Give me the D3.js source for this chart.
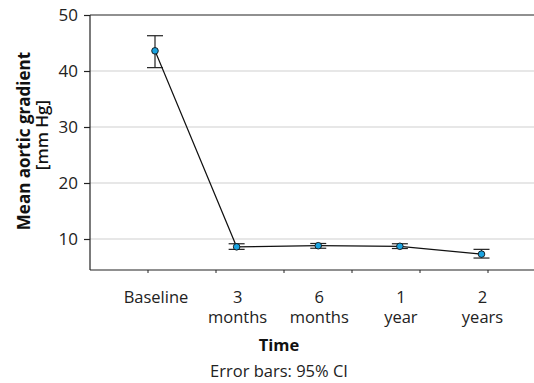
<!DOCTYPE html>
<html>
<head>
<meta charset="utf-8">
<script src="https://cdn.jsdelivr.net/npm/d3@7"></script>
<style>
  body { margin: 0; background: #fff; }
  svg { font-family: "Open Sans", "Noto Sans", sans-serif; }
</style>
</head>
<body>
<div id="chart"></div>
<script>
// chart values
var categories = ['Baseline', '3 months', '6 months', '1 year', '2 years'];
var category_lines = [['Baseline'], ['3', 'months'], ['6', 'months'], ['1', 'year'], ['2', 'years']];
var means = [43.6, 8.6, 8.8, 8.7, 7.3];
var ci_low = [40.6, 8.15, 8.35, 8.3, 6.6];
var ci_high = [46.3, 9.15, 9.2, 9.15, 8.15];
var y_ticks = [10, 20, 30, 40, 50];

var WIDTH = 534, HEIGHT = 383;
var PLOT_LEFT = 90, PLOT_RIGHT = 534, PLOT_TOP = 15, PLOT_BOTTOM = 270;
var FONT = '"Open Sans", "Noto Sans", sans-serif';
var FONT_SIZE = 16.5;

var svg = d3.select('#chart').append('svg')
    .attr('width', WIDTH)
    .attr('height', HEIGHT);

var y = d3.scaleLinear()
    .domain([50 - (PLOT_BOTTOM - PLOT_TOP) / 5.6, 50])
    .range([PLOT_BOTTOM, PLOT_TOP]);

var x = d3.scalePoint()
    .domain(categories)
    .range([155, 481.5]);

// the bottom axis ticks don't line up with the categories in the original
var tick_scale = d3.scaleLinear().domain([0, 5]).range([148, 488]);

// grid lines
svg.append('g').selectAll('line')
    .data(y_ticks.filter((d) => d < 50))
    .enter().append('line')
    .attr('x1', PLOT_LEFT).attr('x2', PLOT_RIGHT)
    .attr('y1', (d) => y(d)).attr('y2', (d) => y(d))
    .attr('stroke', '#cfcfcf')
    .attr('stroke-width', 1.2);

// top frame line
svg.append('line')
    .attr('x1', PLOT_LEFT).attr('x2', PLOT_RIGHT)
    .attr('y1', y(50)).attr('y2', y(50))
    .attr('stroke', '#222').attr('stroke-width', 1.2);

// y axis
var y_axis = svg.append('g')
    .attr('transform', 'translate(' + PLOT_LEFT + ',0)')
    .call(d3.axisLeft(y).tickValues(y_ticks).tickSize(6).tickPadding(6));
y_axis.select('.domain')
    .attr('d', 'M0,' + PLOT_TOP + 'V' + PLOT_BOTTOM)
    .attr('stroke', '#222').attr('stroke-width', 1.2);
y_axis.selectAll('.tick line').attr('stroke', '#222').attr('stroke-width', 1.2);
y_axis.selectAll('.tick text')
    .attr('font-size', FONT_SIZE + 0.5)
    .attr('font-family', FONT)
    .attr('fill', '#222');

// x axis line and ticks
var x_axis = svg.append('g');
x_axis.append('line')
    .attr('x1', PLOT_LEFT).attr('x2', PLOT_RIGHT)
    .attr('y1', PLOT_BOTTOM).attr('y2', PLOT_BOTTOM)
    .attr('stroke', '#222').attr('stroke-width', 1.2);
x_axis.selectAll('.xtick')
    .data(d3.range(6))
    .enter().append('line')
    .attr('class', 'xtick')
    .attr('x1', (d) => tick_scale(d)).attr('x2', (d) => tick_scale(d))
    .attr('y1', PLOT_BOTTOM).attr('y2', PLOT_BOTTOM + 3)
    .attr('stroke', '#222').attr('stroke-width', 1);

var x_labels = x_axis.selectAll('.xlabel')
    .data(categories)
    .enter().append('text')
    .attr('class', 'xlabel')
    .attr('text-anchor', 'middle')
    .attr('font-size', FONT_SIZE)
    .attr('fill', '#222');
x_labels.selectAll('tspan')
    .data((d, i) => category_lines[i].map((t) => ({ text: t, cat: d })))
    .enter().append('tspan')
    .attr('x', (d) => x(d.cat) + 1)
    .attr('y', (d, j) => 303 + j * 20)
    .text((d) => d.text);

// axis titles
svg.append('text')
    .attr('x', 279).attr('y', 351)
    .attr('text-anchor', 'middle')
    .attr('font-size', FONT_SIZE).attr('font-weight', 'bold')
    .attr('fill', '#111')
    .text('Time');
svg.append('text')
    .attr('x', 279).attr('y', 377)
    .attr('text-anchor', 'middle')
    .attr('font-size', FONT_SIZE)
    .attr('fill', '#222')
    .text('Error bars: 95% CI');

var y_title = svg.append('text')
    .attr('transform', 'translate(0,141) rotate(-90)')
    .attr('text-anchor', 'middle')
    .attr('font-size', FONT_SIZE + 0.5)
    .attr('fill', '#111');
y_title.append('tspan')
    .attr('x', 0).attr('y', 30)
    .attr('font-weight', 'bold')
    .text('Mean aortic gradient');
y_title.append('tspan')
    .attr('x', 6).attr('y', 48)
    .attr('font-weight', 600)
    .text('[mm Hg]');

// data
var points = categories.map((c, i) => ({ cat: c, mean: means[i], lo: ci_low[i], hi: ci_high[i] }));

svg.append('path')
    .datum(points)
    .attr('fill', 'none')
    .attr('stroke', '#111')
    .attr('stroke-width', 1.2)
    .attr('d', d3.line().x((d) => x(d.cat)).y((d) => y(d.mean)));

var bars = svg.append('g').selectAll('g')
    .data(points)
    .enter().append('g')
    .attr('stroke', '#222')
    .attr('stroke-width', 1.2);
bars.append('line')
    .attr('x1', (d) => x(d.cat)).attr('x2', (d) => x(d.cat))
    .attr('y1', (d) => y(d.lo)).attr('y2', (d) => y(d.hi));
bars.append('line')
    .attr('x1', (d) => x(d.cat) - 8).attr('x2', (d) => x(d.cat) + 8)
    .attr('y1', (d) => y(d.lo)).attr('y2', (d) => y(d.lo));
bars.append('line')
    .attr('x1', (d) => x(d.cat) - 8).attr('x2', (d) => x(d.cat) + 8)
    .attr('y1', (d) => y(d.hi)).attr('y2', (d) => y(d.hi));

svg.append('g').selectAll('circle')
    .data(points)
    .enter().append('circle')
    .attr('cx', (d) => x(d.cat))
    .attr('cy', (d) => y(d.mean))
    .attr('r', 3.3)
    .attr('fill', '#1aa3e0')
    .attr('stroke', '#111')
    .attr('stroke-width', 0.9);
</script>
</body>
</html>
